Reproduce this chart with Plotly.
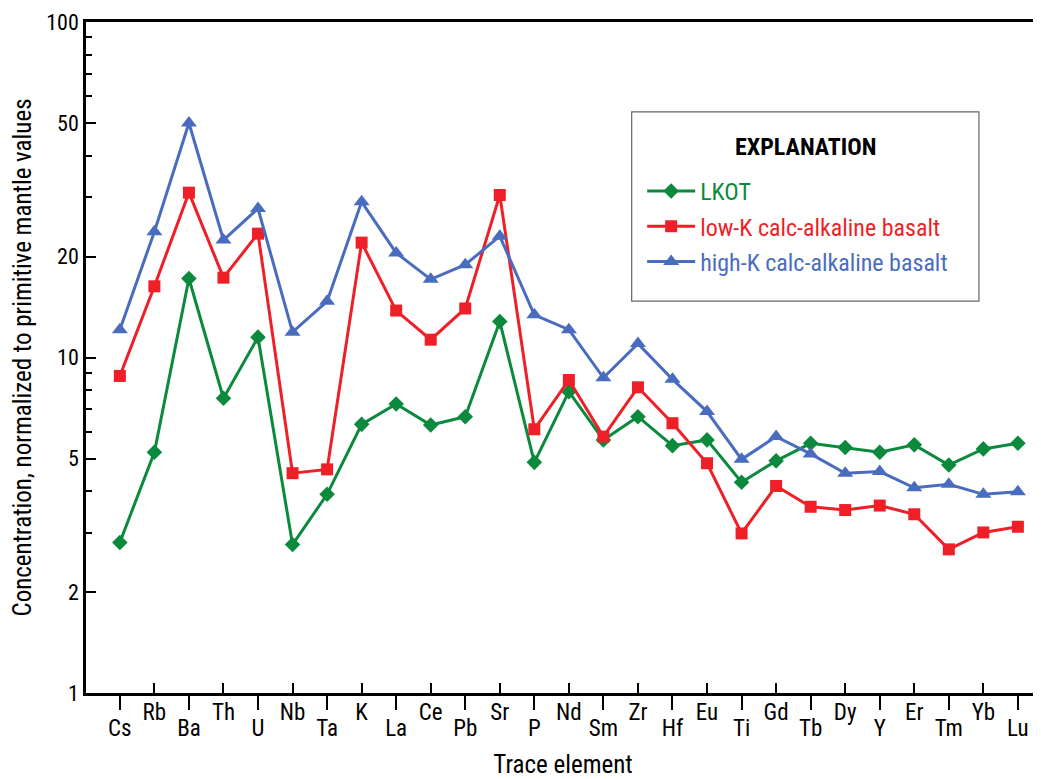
import plotly.graph_objects as go

elements = ["Cs", "Rb", "Ba", "Th", "U", "Nb", "Ta", "K", "La", "Ce", "Pb", "Sr", "P", "Nd",
            "Sm", "Zr", "Hf", "Eu", "Ti", "Gd", "Tb", "Dy", "Y", "Er", "Tm", "Yb", "Lu"]

lkot = [2.81, 5.22, 17.2, 7.56, 11.5, 2.77, 3.91, 6.32, 7.27, 6.29, 6.66, 12.8, 4.87, 7.91,
        5.68, 6.66, 5.46, 5.68, 4.25, 4.92, 5.55, 5.39, 5.22, 5.49, 4.78, 5.34, 5.55]
low_k = [8.81, 16.3, 31.0, 17.3, 23.4, 4.52, 4.64, 22.0, 13.8, 11.3, 14.0, 30.5, 6.11, 8.57,
         5.81, 8.15, 6.37, 4.84, 2.99, 4.14, 3.59, 3.51, 3.62, 3.41, 2.68, 3.01, 3.13]
high_k = [12.1, 23.7, 50.0, 22.4, 27.8, 11.9, 14.7, 29.1, 20.5, 17.1, 18.9, 23.0, 13.4, 12.1,
          8.70, 11.0, 8.61, 6.90, 4.97, 5.81, 5.16, 4.52, 4.57, 4.09, 4.19, 3.91, 3.98]

y_major = [1, 2, 5, 10, 20, 50, 100]
y_minor = [3, 4, 6, 7, 8, 9, 30, 40, 60, 70, 80, 90]

GREEN = "#0b8a3e"
RED = "#ee1f26"
BLUE = "#4a6cbf"
FONT = "Liberation Sans Narrow, Roboto Condensed, Arial Narrow, sans-serif"

idx = list(range(len(elements)))
even = idx[0::2]
odd = idx[1::2]

fig = go.Figure()
series = [
    ("LKOT", lkot, GREEN, "diamond", 12),
    ("low-K calc-alkaline basalt", low_k, RED, "square", 12),
    ("high-K calc-alkaline basalt", high_k, BLUE, "triangle-up", 14),
]
for name, vals, col, sym, sz in series:
    fig.add_trace(go.Scatter(
        x=idx, y=vals, mode="lines+markers",
        name=f"<span style='color:{col}'>{name}</span>",
        legendgroup=name,
        line=dict(color=col, width=3),
        marker=dict(symbol=sym, size=sz, color=col),
    ))

# carrier for the second (staggered) category axis
fig.add_trace(go.Scatter(x=[], y=[], xaxis="x2", yaxis="y", showlegend=False,
                         hoverinfo="skip", mode="markers"))

xrange = [-0.98, 26.64]
fig.update_layout(
    width=1033, height=771,
    margin=dict(l=78, r=1, t=14, b=86),
    paper_bgcolor="white", plot_bgcolor="white",
    font=dict(family=FONT, size=23, color="black"),
    showlegend=True,
    legend=dict(
        x=0.583, y=0.781, xanchor="left", yanchor="top",
        bgcolor="rgba(0,0,0,0)", borderwidth=0,
        tracegroupgap=1, itemwidth=48,
        font=dict(size=24),
    ),
    annotations=[dict(text="<b>EXPLANATION</b>", xref="paper", yref="paper",
                      x=0.754, y=0.814, xanchor="center", yanchor="middle",
                      showarrow=False, font=dict(size=24, color="black"))],
    xaxis=dict(
        range=xrange, showgrid=False, zeroline=False, automargin=False,
        showline=True, linecolor="black", linewidth=2.5, mirror=True,
        tickmode="array", tickvals=even, ticktext=[elements[i] for i in even],
        ticks="outside", ticklen=14, tickwidth=1.5, tickcolor="black",
        ticklabelstandoff=-1,
        title=dict(text="Trace element", standoff=31, font=dict(size=25)),
    ),
    xaxis2=dict(
        overlaying="x", anchor="y", side="bottom", automargin=False,
        range=xrange, showgrid=False, zeroline=False, showline=False,
        tickmode="array", tickvals=odd, ticktext=[elements[i] for i in odd],
        ticks="inside", ticklen=10, tickwidth=1.5, tickcolor="black",
        ticklabelstandoff=3,
    ),
    yaxis=dict(
        type="log", range=[0, 2], showgrid=False, zeroline=False, automargin=False,
        showline=True, linecolor="black", linewidth=2.5,
        tickmode="array", tickvals=y_major, ticktext=[str(v) for v in y_major],
        ticks="inside", ticklen=10, tickwidth=1.5, tickcolor="black",
        tickfont=dict(size=22),
        minor=dict(tickmode="array", tickvals=y_minor, ticks="inside", ticklen=6,
                   tickwidth=1.5, tickcolor="black", showgrid=False),
        title=dict(text="Concentration, normalized to primitive mantle values",
                   standoff=16, font=dict(size=25)),
    ),
    shapes=[dict(type="rect", xref="paper", yref="paper",
                 x0=0.572, x1=0.936, y0=0.584, y1=0.866,
                 line=dict(color="#666666", width=1.2), fillcolor="rgba(0,0,0,0)", layer="below")],
)

fig.write_html("out.html")
